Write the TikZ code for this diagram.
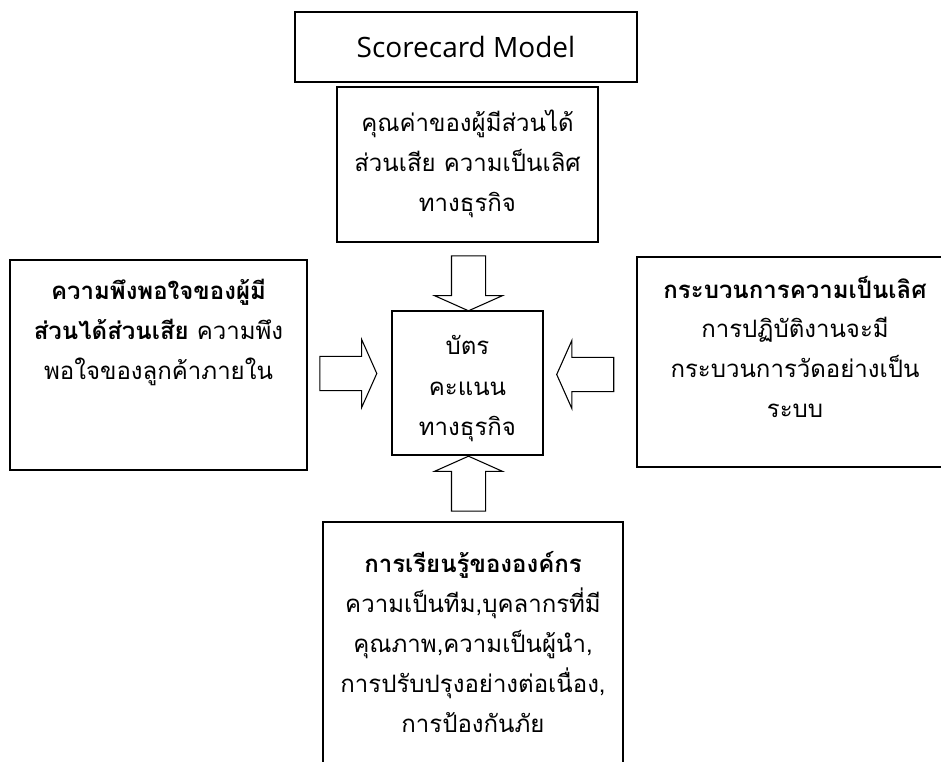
\documentclass[tikz,border=0pt]{standalone}
\usepackage{fontspec}
\setmainfont[Script=Thai]{Loma}
\newfontfamily\latinfont{Open Sans}
\usepackage{tikz}
\usetikzlibrary{shapes,arrows}
\tikzset{
	block/.style    = {draw, line width=0.9pt, rectangle, inner sep=0pt},
	heading/.style  = {draw, line width=0.9pt, rectangle, inner sep=0pt,
		minimum width=256.5pt, minimum height=52.5pt,
		font=\latinfont\fontsize{21}{26}\selectfont},
	fat/.style      = {draw, line width=0.8pt, single arrow,
		single arrow head extend=12.75pt,
		single arrow tip angle=132}, % block arrow
	vfat/.style     = {fat, inner xsep=12.375pt, inner ysep=0pt,
		minimum height=41.25pt}, % vertical
	hfat/.style     = {fat, inner xsep=0pt, inner ysep=12.375pt,
		minimum height=42.75pt}  % horizontal
}
\newcommand{\boxtext}[4]{\parbox[c][#1][t]{#2}{\centering\fontsize{18}{30}\selectfont
	\vspace*{#3}\strut #4}}

\begin{document}
\begin{tikzpicture}[x=0.75pt, y=-0.75pt]
	\useasboundingbox (0,0) rectangle (941,762);
	\draw
	% Drawing the boxes
	node at (466,47) [heading] (model) {Scorecard Model}
	node at (467.5,164.5) [block] (value) {\boxtext{116.25pt}{195.75pt}{12.75pt}{คุณค่าของผู้มีส่วนได้\\ส่วนเสีย ความเป็นเลิศ\\ทางธุรกิจ}}
	node at (158.5,365) [block] (cust) {\boxtext{157.5pt}{222.75pt}{9pt}{{\bfseries ความพึงพอใจของผู้มี}\\{\bfseries ส่วนได้ส่วนเสีย} ความพึง\\พอใจของลูกค้าภายใน}}
	node at (795,362) [block] (proc) {\boxtext{157.5pt}{237pt}{9.75pt}{{\bfseries กระบวนการความเป็นเลิศ}\\การปฏิบัติงานจะมี\\กระบวนการวัดอย่างเป็น\\ระบบ}}
	node at (467.5,383) [block] (card) {\boxtext{108pt}{113.25pt}{12pt}{บัตร\\คะแนน\\ทางธุรกิจ}}
	node at (473,656) [block] (learn) {\boxtext{201pt}{225pt}{16.5pt}{{\bfseries การเรียนรู้ขององค์กร}\\ความเป็นทีม,บุคลากรที่มี\\คุณภาพ,ความเป็นผู้นำ,\\การปรับปรุงอย่างต่อเนื่อง,\\การป้องกันภัย}}
	;

	% Drawing the arrows into the card
	\draw
	node at (468.5,279.5) [vfat, shape border rotate=270] (inT) {}
	node at (344.5,373.5) [hfat] (inL) {}
	node at (589,374.5) [hfat, shape border rotate=180] (inR) {}
	node at (468.5,487.5) [vfat, shape border rotate=90] (inB) {};
\end{tikzpicture}
\end{document}
